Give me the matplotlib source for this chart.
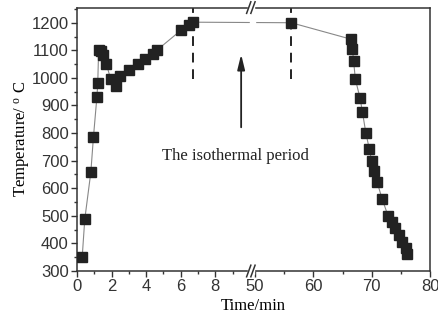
import numpy as np
import matplotlib
matplotlib.use("Agg")
import matplotlib.pyplot as plt
import matplotlib.transforms as mtransforms
from matplotlib.patches import Rectangle

# heating + hold + cooling (time in min, temperature in C)
time_min = [0.3, 0.45, 0.8, 0.95, 1.15, 1.2, 1.25, 1.4, 1.5, 1.7,
            1.95, 2.25, 2.5, 3.0, 3.5, 3.95, 4.4, 4.65,
            6.0, 6.45, 6.7, 56.2,
            66.5, 66.7, 66.9, 67.2, 68.0, 68.4, 69.0, 69.6, 70.0, 70.4,
            70.9, 71.8, 72.8, 73.4, 74.0, 74.6, 75.2, 75.8, 76.1]
temp_c = [350, 488, 658, 785, 930, 980, 1100, 1098, 1082, 1050,
          995, 972, 1008, 1030, 1052, 1070, 1088, 1102,
          1172, 1193, 1202, 1200,
          1140, 1105, 1060, 995, 927, 878, 800, 742, 697, 664,
          624, 561, 500, 479, 455, 431, 406, 382, 361]

hold_start = 6.7
hold_end = 56.2

x_major = [0, 2, 4, 6, 8, 50, 60, 70, 80]
x_minor = [1, 3, 5, 7, 9, 55, 65, 75]
y_major = list(range(300, 1201, 100))

# broken x axis: 0..B1 on the left part, B2..80 on the right part
B1, B2 = 10.15, 49.56
SL = 0.04901
SR = 0.016525
F = B1 * SL


def fwd(x):
    x = np.asarray(x, dtype=float)
    return np.where(x <= B1, x * SL, np.where(x >= B2, F + (x - B2) * SR, F))


def inv(u):
    u = np.asarray(u, dtype=float)
    return np.where(u <= F, u / SL, B2 + (u - F) / SR)


plt.rcParams['font.family'] = ['Liberation Sans', 'DejaVu Sans']
plt.rcParams['mathtext.fontset'] = 'custom'
plt.rcParams['mathtext.rm'] = 'Liberation Serif'
plt.rcParams['mathtext.it'] = 'Liberation Serif'
serif = ['Liberation Serif', 'DejaVu Serif']

fig = plt.figure(figsize=(4.39, 3.29), dpi=100)
ax = fig.add_axes([0.1754, 0.1763, 0.8041, 0.8007])
ax.set_xscale('function', functions=(fwd, inv))

ax.plot(time_min, temp_c, '-', color='#888888', lw=0.8, zorder=2)
ax.plot(time_min, temp_c, 's', color='#222222', ms=6.6, lw=0, zorder=3)

ax.set_xlim(0, 80)
ax.set_ylim(300, 1255)

# dashed markers of the isothermal period
for t in (hold_start, hold_end):
    ax.plot([t, t], [995, 1255], color='#222222', lw=1.4,
            linestyle=(0, (5, 3.5)), zorder=2, clip_on=False)

ax.set_xticks(x_major)
ax.set_xticks(x_minor, minor=True)
ax.set_yticks(y_major)
ax.set_yticks(list(range(350, 1251, 100)), minor=True)
ax.tick_params(axis='both', which='major', direction='out', length=4,
               width=1, labelsize=12, colors='#333333', pad=2)
ax.tick_params(axis='both', which='minor', direction='out', length=2,
               width=1, colors='#333333')
ax.tick_params(top=False, right=False)
for s in ax.spines.values():
    s.set_color('#333333')
    s.set_linewidth(1.1)

ax.set_xlabel('Time/min', fontsize=12, family=serif, labelpad=3)
ax.set_ylabel('Temperature/ $^{\\mathrm{o}}$ C', fontsize=12, family=serif,
              labelpad=-1)

# axis break: gaps in spines and hold line, plus // marks
bx = fwd(B1).item() - 0.004
gap = 0.008
for yy in (0.0, 1.0):
    ax.add_patch(Rectangle((bx - gap, yy - 0.012), 2 * gap, 0.024,
                           transform=ax.transAxes, color='white',
                           clip_on=False, zorder=5))
    for dx in (-0.007, 0.005):
        ax.plot([bx + dx - 0.006, bx + dx + 0.006], [yy - 0.022, yy + 0.022],
                color='#333333', lw=1.1, transform=ax.transAxes,
                clip_on=False, zorder=6)
blend = mtransforms.blended_transform_factory(ax.transAxes, ax.transData)
ax.add_patch(Rectangle((bx - gap + 0.004, 1185), 2 * gap, 30, transform=blend,
                       color='white', zorder=4))

ax.annotate('', xy=(0.465, 0.833), xytext=(0.465, 0.535),
            xycoords='axes fraction', textcoords='axes fraction',
            arrowprops=dict(arrowstyle='-|>,head_length=0.9,head_width=0.22',
                            color='#222222', lw=1.3))
ax.text(0.448, 0.437, 'The isothermal period', transform=ax.transAxes,
        ha='center', va='center', fontsize=12, family=serif, color='#222222')

fig.savefig('out.png', dpi=100)
